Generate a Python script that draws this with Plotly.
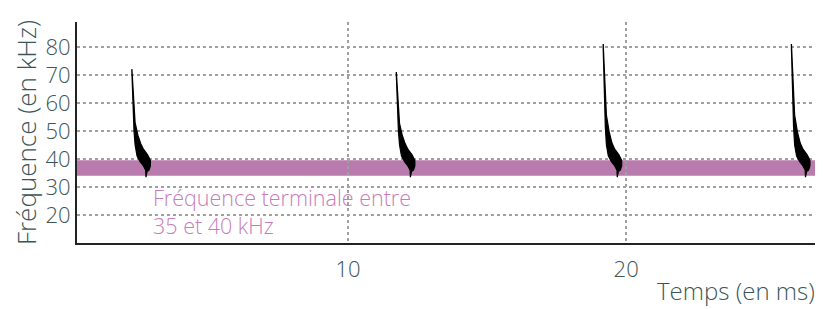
import plotly.graph_objects as go

# Data
call_starts = [2.22, 11.73, 19.17, 25.94]      # ms
call_peaks = [72, 71, 81, 81]                   # kHz
# call contour profile (offset ms, kHz) for a call peaking at 72 kHz
prof_dt = [0.0, 0.03, 0.08, 0.12, 0.19, 0.30, 0.42, 0.50, 0.51,
           0.55, 0.62, 0.67, 0.67, 0.57, 0.42, 0.32, 0.22, 0.12, 0.07, 0.025, 0.005]
prof_f = [72, 62, 50, 45, 41, 39, 37.5, 36, 33.5,
          35.5, 36, 37.5, 39.5, 41.5, 43.5, 45.5, 48.5, 53, 60, 68, 72]
band_low, band_high = 34, 39.5
y_ticks = [20, 30, 40, 50, 60, 70, 80]
x_ticks = [10, 20]

FONT = "Open Sans, sans-serif"
TXT = "#3b5656"

fig = go.Figure()
for t0, pk in zip(call_starts, call_peaks):
    xs = [t0 + d for d in prof_dt]
    ys = [f if f <= 45 else 45 + (f - 45) * (pk - 45) / (72 - 45) for f in prof_f]
    fig.add_trace(go.Scatter(x=xs, y=ys, mode="lines", fill="toself",
                             fillcolor="black", line=dict(color="black", width=1.2),
                             hoverinfo="skip", showlegend=False))

fig.add_shape(type="rect", xref="paper", yref="y", x0=0, x1=1,
              y0=band_low, y1=band_high, fillcolor="#b97aad", line_width=0, layer="below")

tick_font = dict(family=FONT, size=22, color=TXT, weight=300)
grid = dict(showgrid=True, gridcolor="#a0a0a0", griddash="dot", gridwidth=1.5)
fig.update_layout(
    width=815, height=301, margin=dict(l=69, r=5, t=14, b=66),
    plot_bgcolor="white", paper_bgcolor="white", showlegend=False,
    xaxis=dict(range=[0.25, 26.9], tickvals=x_ticks, tickfont=tick_font,
               showline=True, linecolor="#222", linewidth=2, zeroline=False,
               ticks="", ticklabelstandoff=6, automargin=False, **grid),
    yaxis=dict(range=[10, 88.9], tickvals=y_ticks, tickfont=tick_font,
               showline=True, linecolor="#222", linewidth=2, zeroline=False,
               ticks="", ticklabelstandoff=0, automargin=False,
               title=dict(text="Fréquence (en kHz)", standoff=2,
                          font=dict(family=FONT, size=26, color=TXT, weight=300)),
               **grid),
)
fig.add_annotation(xref="paper", yref="paper", x=0.999, y=-0.13, xanchor="right", yanchor="top",
                   text="Temps (en ms)", showarrow=False,
                   font=dict(family=FONT, size=24, color=TXT, weight=300))
fig.add_annotation(xref="x", yref="y", x=2.9, y=21.4, xanchor="left", yanchor="middle",
                   text="Fréquence terminale entre<br>35 et 40 kHz", showarrow=False, align="left",
                   font=dict(family=FONT, size=21.5, color="#c77dbb", weight=300))
fig.write_html("out.html")
